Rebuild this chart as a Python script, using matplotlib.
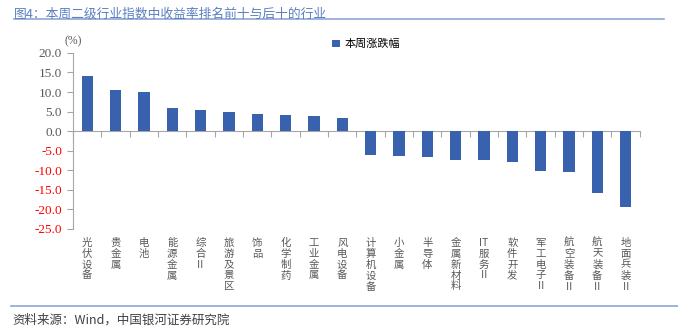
import matplotlib
matplotlib.use('Agg')

import matplotlib.pyplot as plt
import matplotlib.transforms as mtransforms
import numpy as np

plt.rcParams['font.family'] = ['Liberation Serif', 'Noto Sans CJK SC', 'DejaVu Sans']

industries = ["光伏设备", "贵金属", "电池", "能源金属", "综合Ⅱ",
              "旅游及景区", "饰品", "化学制药", "工业金属", "风电设备",
              "计算机设备", "小金属", "半导体", "金属新材料", "IT服务Ⅱ",
              "软件开发", "军工电子Ⅱ", "航空装备Ⅱ", "航天装备Ⅱ", "地面兵装Ⅱ"]
weekly_change = [14.05, 10.6, 10.05, 5.85, 5.3, 5.0, 4.5, 4.0, 3.8, 3.3,
                 -6.2, -6.45, -6.6, -7.3, -7.3, -8.0, -10.2, -10.55, -15.8, -19.4]
yticks = [20.0, 15.0, 10.0, 5.0, 0.0, -5.0, -10.0, -15.0, -20.0, -25.0]

bar_color = '#3862ae'
axis_color = '#a6a6a6'
text_gray = '#595959'
title_color = '#5b7fc1'
rule_color = '#8ea6d6'


def stack_label(name):
    # vertical labels: one character per line, "IT" kept together
    if name.startswith("IT"):
        return "IT\n" + "\n".join(name[2:])
    return "\n".join(name)


def plot_change(out_file):
    fig = plt.figure(figsize=(6.78, 3.35), dpi=100)
    ax = fig.add_axes([0.1077, 0.317, 0.836, 0.525])

    x = np.arange(len(industries))
    ax.bar(x, weekly_change, width=0.4, color=bar_color, zorder=3,
           label="本周涨跌幅")

    ax.set_xlim(-0.5, len(industries) - 0.5)
    ax.set_ylim(-25, 20)
    ax.set_yticks(yticks)
    ax.set_yticklabels(["{:.1f}".format(v) for v in yticks], fontsize=9.5)
    for lbl, v in zip(ax.get_yticklabels(), yticks):
        lbl.set_color('#ff0000' if v < 0 else text_gray)

    for s in ['top', 'right']:
        ax.spines[s].set_visible(False)
    ax.spines['left'].set_color(axis_color)
    ax.spines['bottom'].set_color(axis_color)
    ax.spines['bottom'].set_position(('data', 0))
    ax.tick_params(axis='y', direction='out', length=4, color=axis_color, pad=4)

    # category separators on the zero line
    ax.set_xticks(np.arange(len(industries) + 1) - 0.5)
    ax.set_xticklabels([])
    ax.tick_params(axis='x', direction='out', length=4, color=axis_color)

    trans = mtransforms.blended_transform_factory(ax.transData, ax.transAxes)
    for i, name in enumerate(industries):
        ax.text(i, -0.05, stack_label(name), transform=trans,
                ha='center', va='top', fontsize=7.5, linespacing=1.12,
                color=text_gray, family=['Noto Sans CJK SC', 'DejaVu Sans'])

    ax.text(-0.5, 1.03, "(%)", transform=trans, ha='center', va='bottom',
            fontsize=8.5, color=text_gray)

    ax.legend(loc='upper left', bbox_to_anchor=(0.44, 1.135), frameon=False,
              handlelength=0.7, handleheight=0.7, handletextpad=0.4,
              prop={'family': 'Noto Sans CJK SC', 'size': 8})

    fig.text(0.02, 0.978, "图4：本周二级行业指数中收益率排名前十与后十的行业",
             ha='left', va='top', fontsize=9.2, color=title_color,
             family=['Noto Sans CJK SC', 'DejaVu Sans'])
    fig.add_artist(plt.Line2D([0.021, 0.98], [0.942, 0.942],
                              transform=fig.transFigure, color=rule_color, lw=1.2))
    fig.add_artist(plt.Line2D([0.016, 1.0], [0.088, 0.088],
                              transform=fig.transFigure, color=rule_color, lw=1.2))
    fig.text(0.018, 0.045, "资料来源：Wind，中国银河证券研究院",
             ha='left', va='center', fontsize=9, color='#404040', style='italic',
             family=['Noto Sans CJK SC', 'DejaVu Sans'])

    plt.savefig(out_file, dpi=100)
    plt.close()


def main():
    plot_change("out.png")


if __name__ == "__main__":
    main()
